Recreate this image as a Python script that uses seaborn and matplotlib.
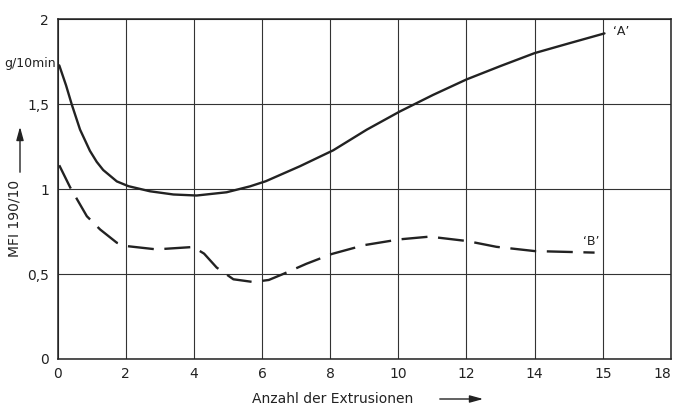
#!/usr/bin/env python3
import numpy as np
import pandas as pd
import matplotlib
matplotlib.use("Agg")
import matplotlib.pyplot as plt
import seaborn as sns

# curve 'A' (solid)
a_x = [0.05, 0.25, 0.42, 0.66, 0.95, 1.15, 1.34, 1.74, 2.08, 2.71, 3.4, 4.08, 4.96, 5.65,
       6.11, 7.11, 8.09, 9.07, 10.04, 11.02, 12.0, 13.0, 14.0, 15.0, 16.05]
a_y = [1.728, 1.61, 1.496, 1.35, 1.225, 1.16, 1.112, 1.045, 1.017, 0.987, 0.968, 0.962, 0.981,
       1.016, 1.046, 1.134, 1.228, 1.349, 1.456, 1.554, 1.645, 1.724, 1.80, 1.857, 1.916]

# curve 'B' (dashed)
b_x = [0.05, 0.37, 0.86, 1.25, 1.74, 2.0, 2.9, 3.98, 4.3, 4.67, 5.16, 5.74, 6.2,
       6.62, 7.3, 8.05, 9.0, 10.04, 10.92, 12.02, 12.88, 14.0, 15.76]
b_y = [1.14, 1.01, 0.84, 0.762, 0.684, 0.665, 0.645, 0.659, 0.62, 0.538, 0.469, 0.453, 0.465,
       0.5, 0.56, 0.618, 0.67, 0.704, 0.72, 0.694, 0.66, 0.635, 0.626]

x_ticks = [0, 2, 4, 6, 8, 10, 12, 14, 16, 18]
x_labels = ["0", "2", "4", "6", "8", "10", "12", "14", "15", "18"]
y_ticks = [0, 0.5, 1, 1.5, 2]
y_labels = ["0", "0,5", "1", "1,5", "2"]

sns.set_theme(style="white")
plt.rcParams["font.family"] = ["DejaVu Sans"]
ink = "#222222"

fig = plt.figure(figsize=(6.77, 4.07), dpi=100)
ax = fig.add_axes([0.085, 0.118, 0.906, 0.835])

df_a = pd.DataFrame({"x": a_x, "y": a_y})
df_b = pd.DataFrame({"x": b_x, "y": b_y})
sns.lineplot(data=df_a, x="x", y="y", ax=ax, color=ink, lw=1.7, sort=False)
sns.lineplot(data=df_b, x="x", y="y", ax=ax, color=ink, lw=1.7, sort=False,
             dashes=False, linestyle=(0, (11, 4.5)))

ax.set_xlim(0, 18)
ax.set_ylim(0, 2)
ax.set_xticks(x_ticks, x_labels)
ax.set_yticks(y_ticks, y_labels)
ax.tick_params(length=0, labelsize=10, colors=ink, pad=6)
ax.get_xticklabels()[-1].set_horizontalalignment("right")
ax.grid(True, color="#333333", lw=0.8)
for s in ax.spines.values():
    s.set_color(ink)
    s.set_linewidth(1.1)
ax.set_xlabel("")
ax.set_ylabel("")

ax.text(16.3, 1.93, "\u2018A\u2019", fontsize=9, color=ink, va="center", ha="left")
ax.text(15.65, 0.69, "\u2018B\u2019", fontsize=9, color=ink, va="center", ha="center")

# unit and axis labels with arrows
fig.text(56 / 677, 1 - 64 / 407, "g/10min", fontsize=9, color=ink, ha="right", va="center")
fig.text(15 / 677, 1 - 218 / 407, "MFI 190/10", fontsize=10, color=ink,
         rotation=90, ha="center", va="center")
fig.add_artist(matplotlib.patches.FancyArrowPatch(
    (20 / 677, 1 - 175 / 407), (20 / 677, 1 - 124 / 407), transform=fig.transFigure,
    arrowstyle="-|>,head_length=8,head_width=2.2", color=ink, lw=1.0))
fig.text(252 / 677, 1 - 399 / 407, "Anzahl der Extrusionen", fontsize=10, color=ink,
         ha="left", va="center")
fig.add_artist(matplotlib.patches.FancyArrowPatch(
    (437 / 677, 1 - 399 / 407), (486 / 677, 1 - 399 / 407), transform=fig.transFigure,
    arrowstyle="-|>,head_length=8,head_width=2.2", color=ink, lw=1.0))

fig.savefig("out.png", dpi=100, facecolor="white")
